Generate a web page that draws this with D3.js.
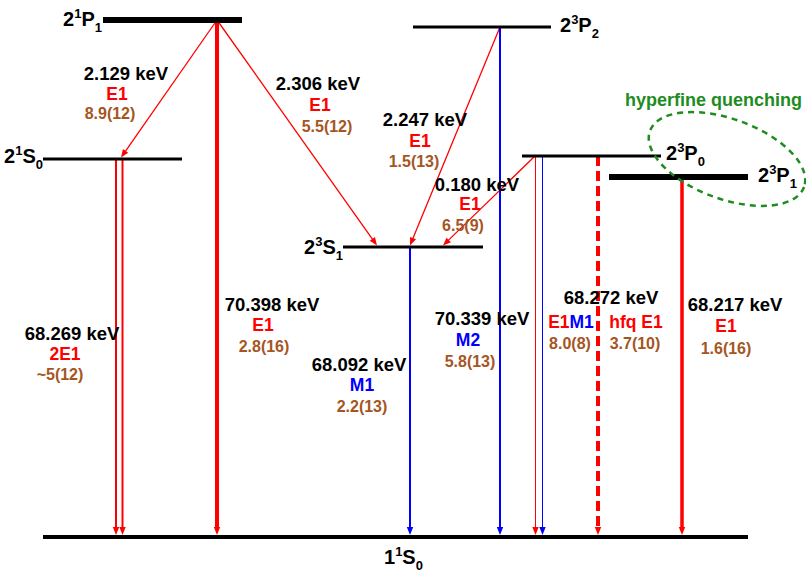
<!DOCTYPE html>
<html>
<head>
<meta charset="utf-8">
<script src="https://cdn.jsdelivr.net/npm/d3@7"></script>
<style>
  html, body { margin: 0; padding: 0; background: #fff; }
  svg { display: block; font-family: "Liberation Sans", Arial, Helvetica, sans-serif; }
</style>
</head>
<body>
<svg id="chart" width="806" height="576"></svg>
<script>
// ---- Level data: He-like ion, n=1 and n=2 states ----
const levelIds      = ["11S0", "23S1", "21S0", "23P0", "23P1", "23P2", "21P1"];
// term pieces: [n, 2S+1, L, J]
const levelTerms    = [["1","1","S","0"], ["2","3","S","1"], ["2","1","S","0"], ["2","3","P","0"],
                       ["2","3","P","1"], ["2","3","P","2"], ["2","1","P","1"]];
const levelEnergies = [0, 68.092, 68.269, 68.272, 68.217, 70.339, 70.398];   // keV above ground

// ---- Transition data ----
const transFrom = ["21P1", "21P1", "23P2", "23P0", "21S0", "21P1", "23S1", "23P2", "23P0", "23P0", "23P1"];
const transTo   = ["21S0", "23S1", "23S1", "23S1", "11S0", "11S0", "11S0", "11S0", "11S0", "11S0", "11S0"];
const transType = ["E1", "E1", "E1", "E1", "2E1", "E1", "M1", "M2", "E1M1", "hfq E1", "E1"];
const transRate = ["8.9(12)", "5.5(12)", "1.5(13)", "6.5(9)", "~5(12)", "2.8(16)", "2.2(13)",
                   "5.8(13)", "8.0(8)", "3.7(10)", "1.6(16)"];

// ---- Drawing layout (schematic, not to energy scale) ----
const rowEnergies = levelEnergies.slice().sort(d3.ascending);
const rowY        = [537, 247, 177, 159, 156, 27, 20];

const levelLayout = {
  "11S0": { x0: 43,  x1: 748, w: 4, lx: 384, ly: 27, anchor: "start" },
  "23S1": { x0: 343, x1: 483, w: 3, lx: 343, ly: 7,  anchor: "end" },
  "21S0": { x0: 43,  x1: 182, w: 3, lx: 43,  ly: 4,  anchor: "end" },
  "23P0": { x0: 522, x1: 661, w: 3, lx: 666, ly: 4,  anchor: "start" },
  "23P1": { x0: 609, x1: 748, w: 6, lx: 758, ly: 5,  anchor: "start" },
  "23P2": { x0: 413, x1: 551, w: 3, lx: 560, ly: 5,  anchor: "start" },
  "21P1": { x0: 103, x1: 242, w: 6, lx: 102, ly: 6,  anchor: "end" }
};

// line placement: start x, end x, width, optional parallel offset, dash
const transLayout = [
  { xa: 217, xb: 121, w: 1.3 },
  { xa: 217, xb: 377, w: 1.3 },
  { xa: 500, xb: 410, w: 1.3 },
  { xa: 535, xb: 443, w: 1.3 },
  { xa: 116, xb: 116, w: 2,   twin: 6.5 },
  { xa: 217, xb: 217, w: 4 },
  { xa: 410, xb: 410, w: 2 },
  { xa: 500, xb: 500, w: 2 },
  { xa: 535.5, xb: 535.5, w: 1, twin: 7 },
  { xa: 598, xb: 598, w: 4,   dash: "10,5" },
  { xa: 682, xb: 682, w: 3.5 }
];

// label placement: [energy x, energy y, type x, type y, rate x, rate y]
const labelLayout = [
  [126, 80, 117, 100, 110, 119],
  [318, 90, 320, 111, 327, 132],
  [425, 126, 420, 147, 414, 167],
  [477, 191, 470, 210, 463, 231],
  [72, 340, 65, 360, 60, 380],
  [272, 311, 263, 331, 264, 352],
  [359, 371, 362, 391, 362, 412],
  [482, 325, 468, 346, 470, 367],
  [611, 304, 571, 328, 570, 349],
  [null, null, 636, 328, 635, 349],
  [735, 311, 726, 332, 726, 354]
];

const RED = "#ff0000", BLUE = "#0000ff", BROWN = "#a5561f", GREEN = "#1f8c1f";

const svg = d3.select("#chart");
const y = d3.scaleLinear().domain(rowEnergies).range(rowY);
const E = id => levelEnergies[levelIds.indexOf(id)];
const colorOf = t => (/^M/.test(t) ? BLUE : RED);
// split a mixed multipolarity such as "E1M1" into coloured parts
const typeParts = t => (/^([EM]\d)+$/.test(t) ? t.match(/[EM]\d/g) : [t]);

// ---- transitions ----
const gT = svg.append("g");

function arrow(g, x1, y1, x2, y2, color, width, dash) {
  const len = 8, half = 3.2;
  const dx = x2 - x1, dy = y2 - y1, L = Math.hypot(dx, dy);
  const ux = dx / L, uy = dy / L;
  const bx = x2 - ux * len, by = y2 - uy * len;
  g.append("line")
    .attr("x1", x1).attr("y1", y1).attr("x2", bx + ux).attr("y2", by + uy)
    .attr("stroke", color).attr("stroke-width", width)
    .attr("stroke-dasharray", dash || null);
  g.append("path")
    .attr("d", `M${x2},${y2}L${bx - uy * half},${by + ux * half}L${bx + uy * half},${by - ux * half}Z`)
    .attr("fill", color);
}

transFrom.forEach((from, i) => {
  const to = transTo[i], lay = transLayout[i];
  const ya = y(E(from));
  const yb = y(E(to)) - levelLayout[to].w / 2;
  const parts = typeParts(transType[i]);
  if (parts.length > 1) {
    parts.forEach((p, k) =>
      arrow(gT, lay.xa + k * lay.twin, ya, lay.xb + k * lay.twin, yb, colorOf(p), lay.w));
  } else {
    const c = colorOf(transType[i]);
    arrow(gT, lay.xa, ya, lay.xb, yb, c, lay.w, lay.dash);
    if (lay.twin) arrow(gT, lay.xa + lay.twin, ya, lay.xb + lay.twin, yb, c, lay.w, lay.dash);
  }
});

// ---- levels ----
const gL = svg.append("g");
levelIds.forEach((id, i) => {
  const lay = levelLayout[id], yy = y(levelEnergies[i]);
  gL.append("line")
    .attr("x1", lay.x0).attr("x2", lay.x1).attr("y1", yy).attr("y2", yy)
    .attr("stroke", "#000").attr("stroke-width", lay.w);
  const [n, m, L, J] = levelTerms[i];
  const t = gL.append("text")
    .attr("x", lay.lx).attr("y", yy + lay.ly)
    .attr("text-anchor", lay.anchor)
    .attr("font-size", 20).attr("font-weight", "bold").attr("fill", "#000");
  t.append("tspan").text(n);
  t.append("tspan").attr("font-size", 13).attr("dy", -8).text(m);
  t.append("tspan").attr("dy", 8).text(L);
  t.append("tspan").attr("font-size", 13).attr("dy", 6).text(J);
});

// ---- transition labels ----
const gX = svg.append("g").attr("text-anchor", "middle").attr("font-weight", "bold");
transFrom.forEach((from, i) => {
  const [kx, ky, tx, ty, rx, ry] = labelLayout[i];
  const keV = E(from) - E(transTo[i]);
  if (kx !== null) {
    gX.append("text").attr("x", kx).attr("y", ky)
      .attr("font-size", 18.5).attr("fill", "#000")
      .text(`${d3.format(".3f")(keV)} keV`);
  }
  const tt = gX.append("text").attr("x", tx).attr("y", ty).attr("font-size", 17.5);
  typeParts(transType[i]).forEach(p => tt.append("tspan").attr("fill", colorOf(p)).text(p));
  gX.append("text").attr("x", rx).attr("y", ry)
    .attr("font-size", 16).attr("fill", BROWN)
    .text(transRate[i]);
});

// ---- hyperfine quenching annotation ----
svg.append("ellipse")
  .attr("cx", 727).attr("cy", 159).attr("rx", 82).attr("ry", 40)
  .attr("transform", "rotate(20,727,159)")
  .attr("fill", "none").attr("stroke", GREEN).attr("stroke-width", 2.5)
  .attr("stroke-dasharray", "6,5");
svg.append("text")
  .attr("x", 625).attr("y", 106)
  .attr("font-size", 18).attr("font-weight", "bold").attr("fill", GREEN)
  .text("hyperfine quenching");
</script>
</body>
</html>
